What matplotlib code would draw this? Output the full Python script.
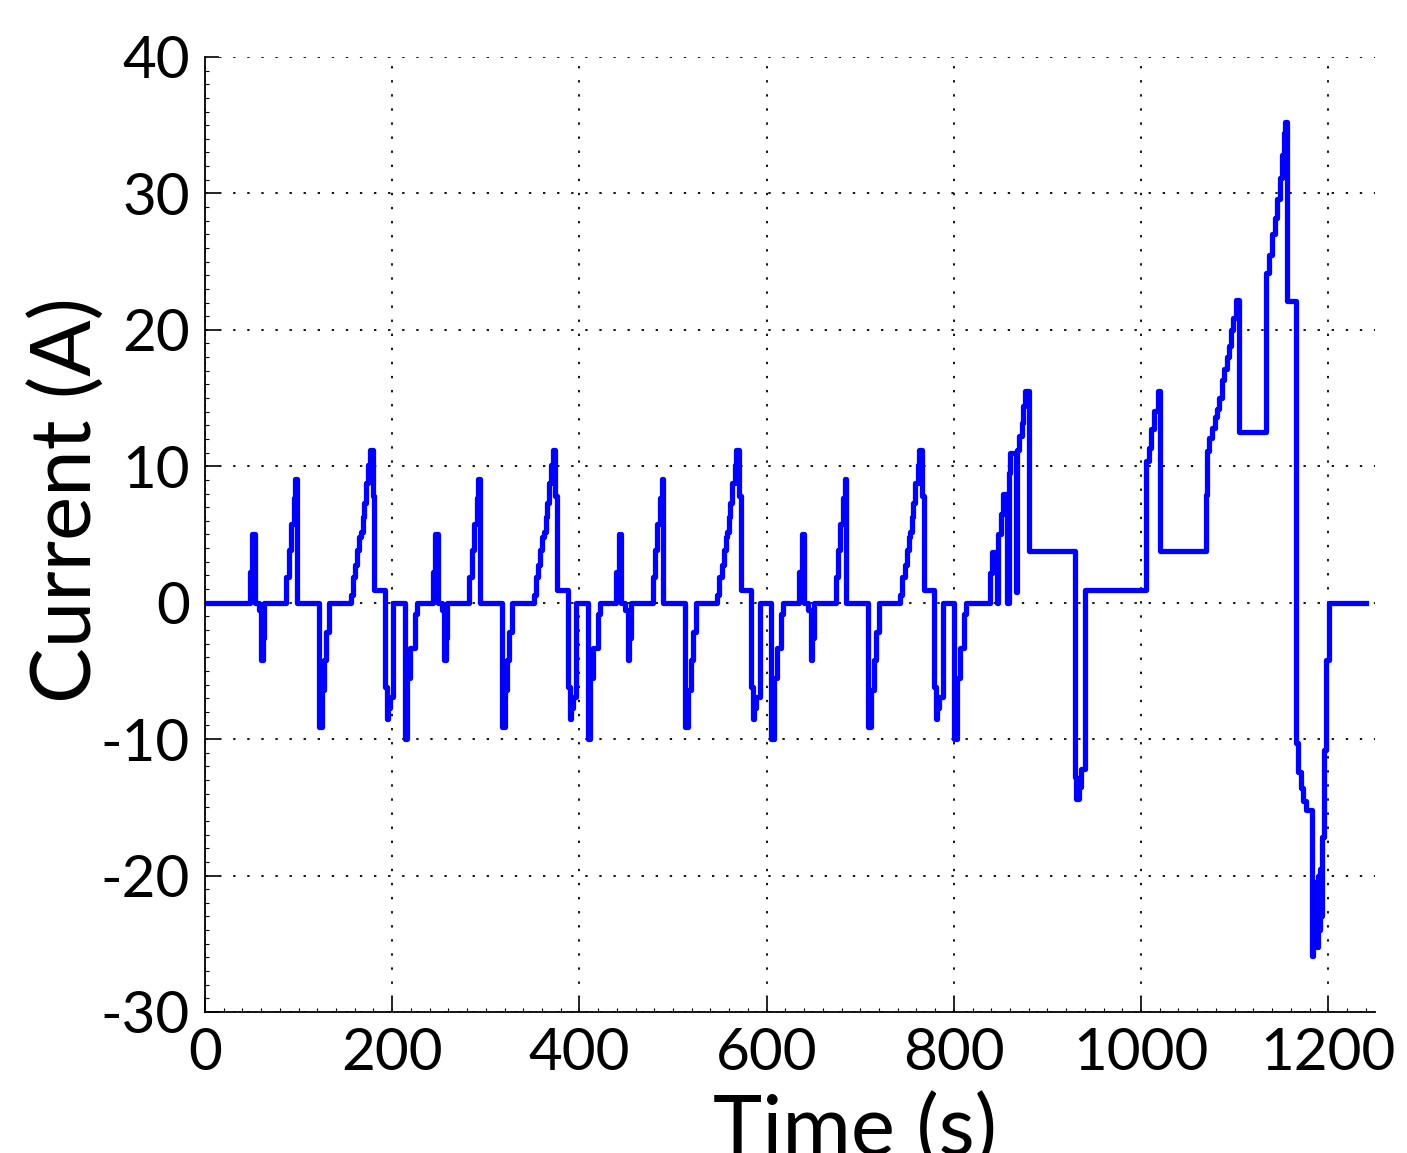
import matplotlib
matplotlib.use('Agg')
import matplotlib.pyplot as plt
from matplotlib.ticker import AutoMinorLocator
import numpy as np

plt.rcParams['font.family'] = ['Lato', 'DejaVu Sans']
plt.rcParams['axes.unicode_minus'] = False

# one urban cycle, times relative to the first step up (s), current (A)
urban_dt = [0, 2.5, 4.9, 9.6, 11.9, 13.9, 15.4,
            38.9, 41.5, 43.9, 46.9, 48.5, 50.3,
            73.3, 76.9, 79.3, 81.5, 84.9,
            107.7, 109.9, 112.3, 114.7, 116.9, 118.3, 120.4, 121.9, 123.9, 126.4, 128.2,
            130.9, 132.8, 144.1, 146.4, 147.4, 149.4, 152.9,
            165.4, 167.9, 171.4, 175.9, 178.4]
urban_i = [2.25, 5.0, 0, -0.5, -4.2, -2.6, 0,
           1.9, 3.85, 5.8, 7.65, 9.05, 0,
           -9.1, -6.4, -4.2, -2.15, 0,
           0.55, 1.9, 2.75, 3.85, 4.8, 5.2, 6.3, 7.3, 8.75, 10.1, 11.2,
           7.8, 0.9, -6.2, -8.5, -7.7, -6.9, 0,
           -10.0, -5.5, -3.3, -0.8, 0]
cycle_start = [48.1, 243.5, 439.5, 635.0]

# extra-urban part, absolute times (s)
eudc_t = [839, 841, 846, 847, 850, 852.5, 856.5, 858.5, 860, 866, 867.5, 870, 873, 874, 875.5,
          880, 929, 930.5, 934, 936, 940,
          1005.5, 1008, 1010.7, 1014.2, 1017.8, 1020.3,
          1069, 1070.5, 1073, 1075.9, 1078.5, 1081.2, 1083.7, 1086.6, 1089, 1091.9, 1094, 1096.2,
          1098.7, 1101.5, 1105.1,
          1133.6, 1137.2, 1140, 1143.2, 1145.3, 1148.6, 1150.7, 1152.5, 1154, 1155.7,
          1165.4, 1167.2, 1170.8, 1173.3, 1176, 1182.2,
          1183.5, 1184.5, 1185.5, 1186.5, 1187.5, 1188.5, 1189.5, 1190.5, 1191.5, 1192.5,
          1193.5, 1195.2, 1197.5, 1201, 1240]
eudc_i = [2.2, 3.7, 0, 5.0, 6.5, 8.0, 0, 9.5, 11.0, 0.8, 11.2, 12.2, 13.2, 14.4, 15.5,
          3.8, -12.8, -14.4, -13.5, -12.2, 0.9,
          10.4, 11.35, 12.7, 14.05, 15.5, 3.8,
          7.9, 11.1, 12.1, 12.8, 13.6, 14.2, 15.0, 16.3, 17.1, 18.0, 18.8, 20.0,
          20.9, 22.2, 12.5,
          24.2, 25.5, 27.0, 28.2, 29.6, 31.1, 32.8, 34.4, 35.2, 22.1,
          -10.3, -12.4, -13.6, -14.5, -15.2, -25.9,
          -21.0, -25.0, -20.5, -24.5, -21.5, -25.2, -20.0, -24.0, -19.5, -23.0,
          -17.2, -10.8, -4.2, 0, 0]

t = [0.0]
cur = [0.0]
for s in cycle_start:
    t += [s + d for d in urban_dt]
    cur += urban_i
t += eudc_t
cur += eudc_i

fig = plt.figure(figsize=(14.07, 11.53), dpi=100)
ax = fig.add_axes([0.1457, 0.1223, 0.8316, 0.8283])

ax.plot(t, cur, drawstyle='steps-post', color='#0000ff', lw=3.8)

ax.set_xlim(0, 1250)
ax.set_ylim(-30, 40)
ax.set_xticks(np.arange(0, 1201, 200))
ax.set_yticks(np.arange(-30, 41, 10))
ax.xaxis.set_minor_locator(AutoMinorLocator(10))
ax.yaxis.set_minor_locator(AutoMinorLocator(10))
ax.grid(True, which='major', color='black', linestyle=(0, (1.3, 6.5)), lw=1.3)

for side in ['top', 'right']:
    ax.spines[side].set_visible(False)
for side in ['left', 'bottom']:
    ax.spines[side].set_linewidth(1.3)

ax.tick_params(which='major', direction='in', length=10, width=1.2, labelsize=42, pad=11)
ax.tick_params(which='minor', direction='in', length=3, width=0.8)

ax.set_xlabel('Time (s)', fontsize=60)
ax.xaxis.set_label_coords(0.5556, -0.086)
ax.set_ylabel('Current (A)', fontsize=60)
ax.yaxis.set_label_coords(-0.084, 0.536)

fig.savefig('out.png', dpi=100)
